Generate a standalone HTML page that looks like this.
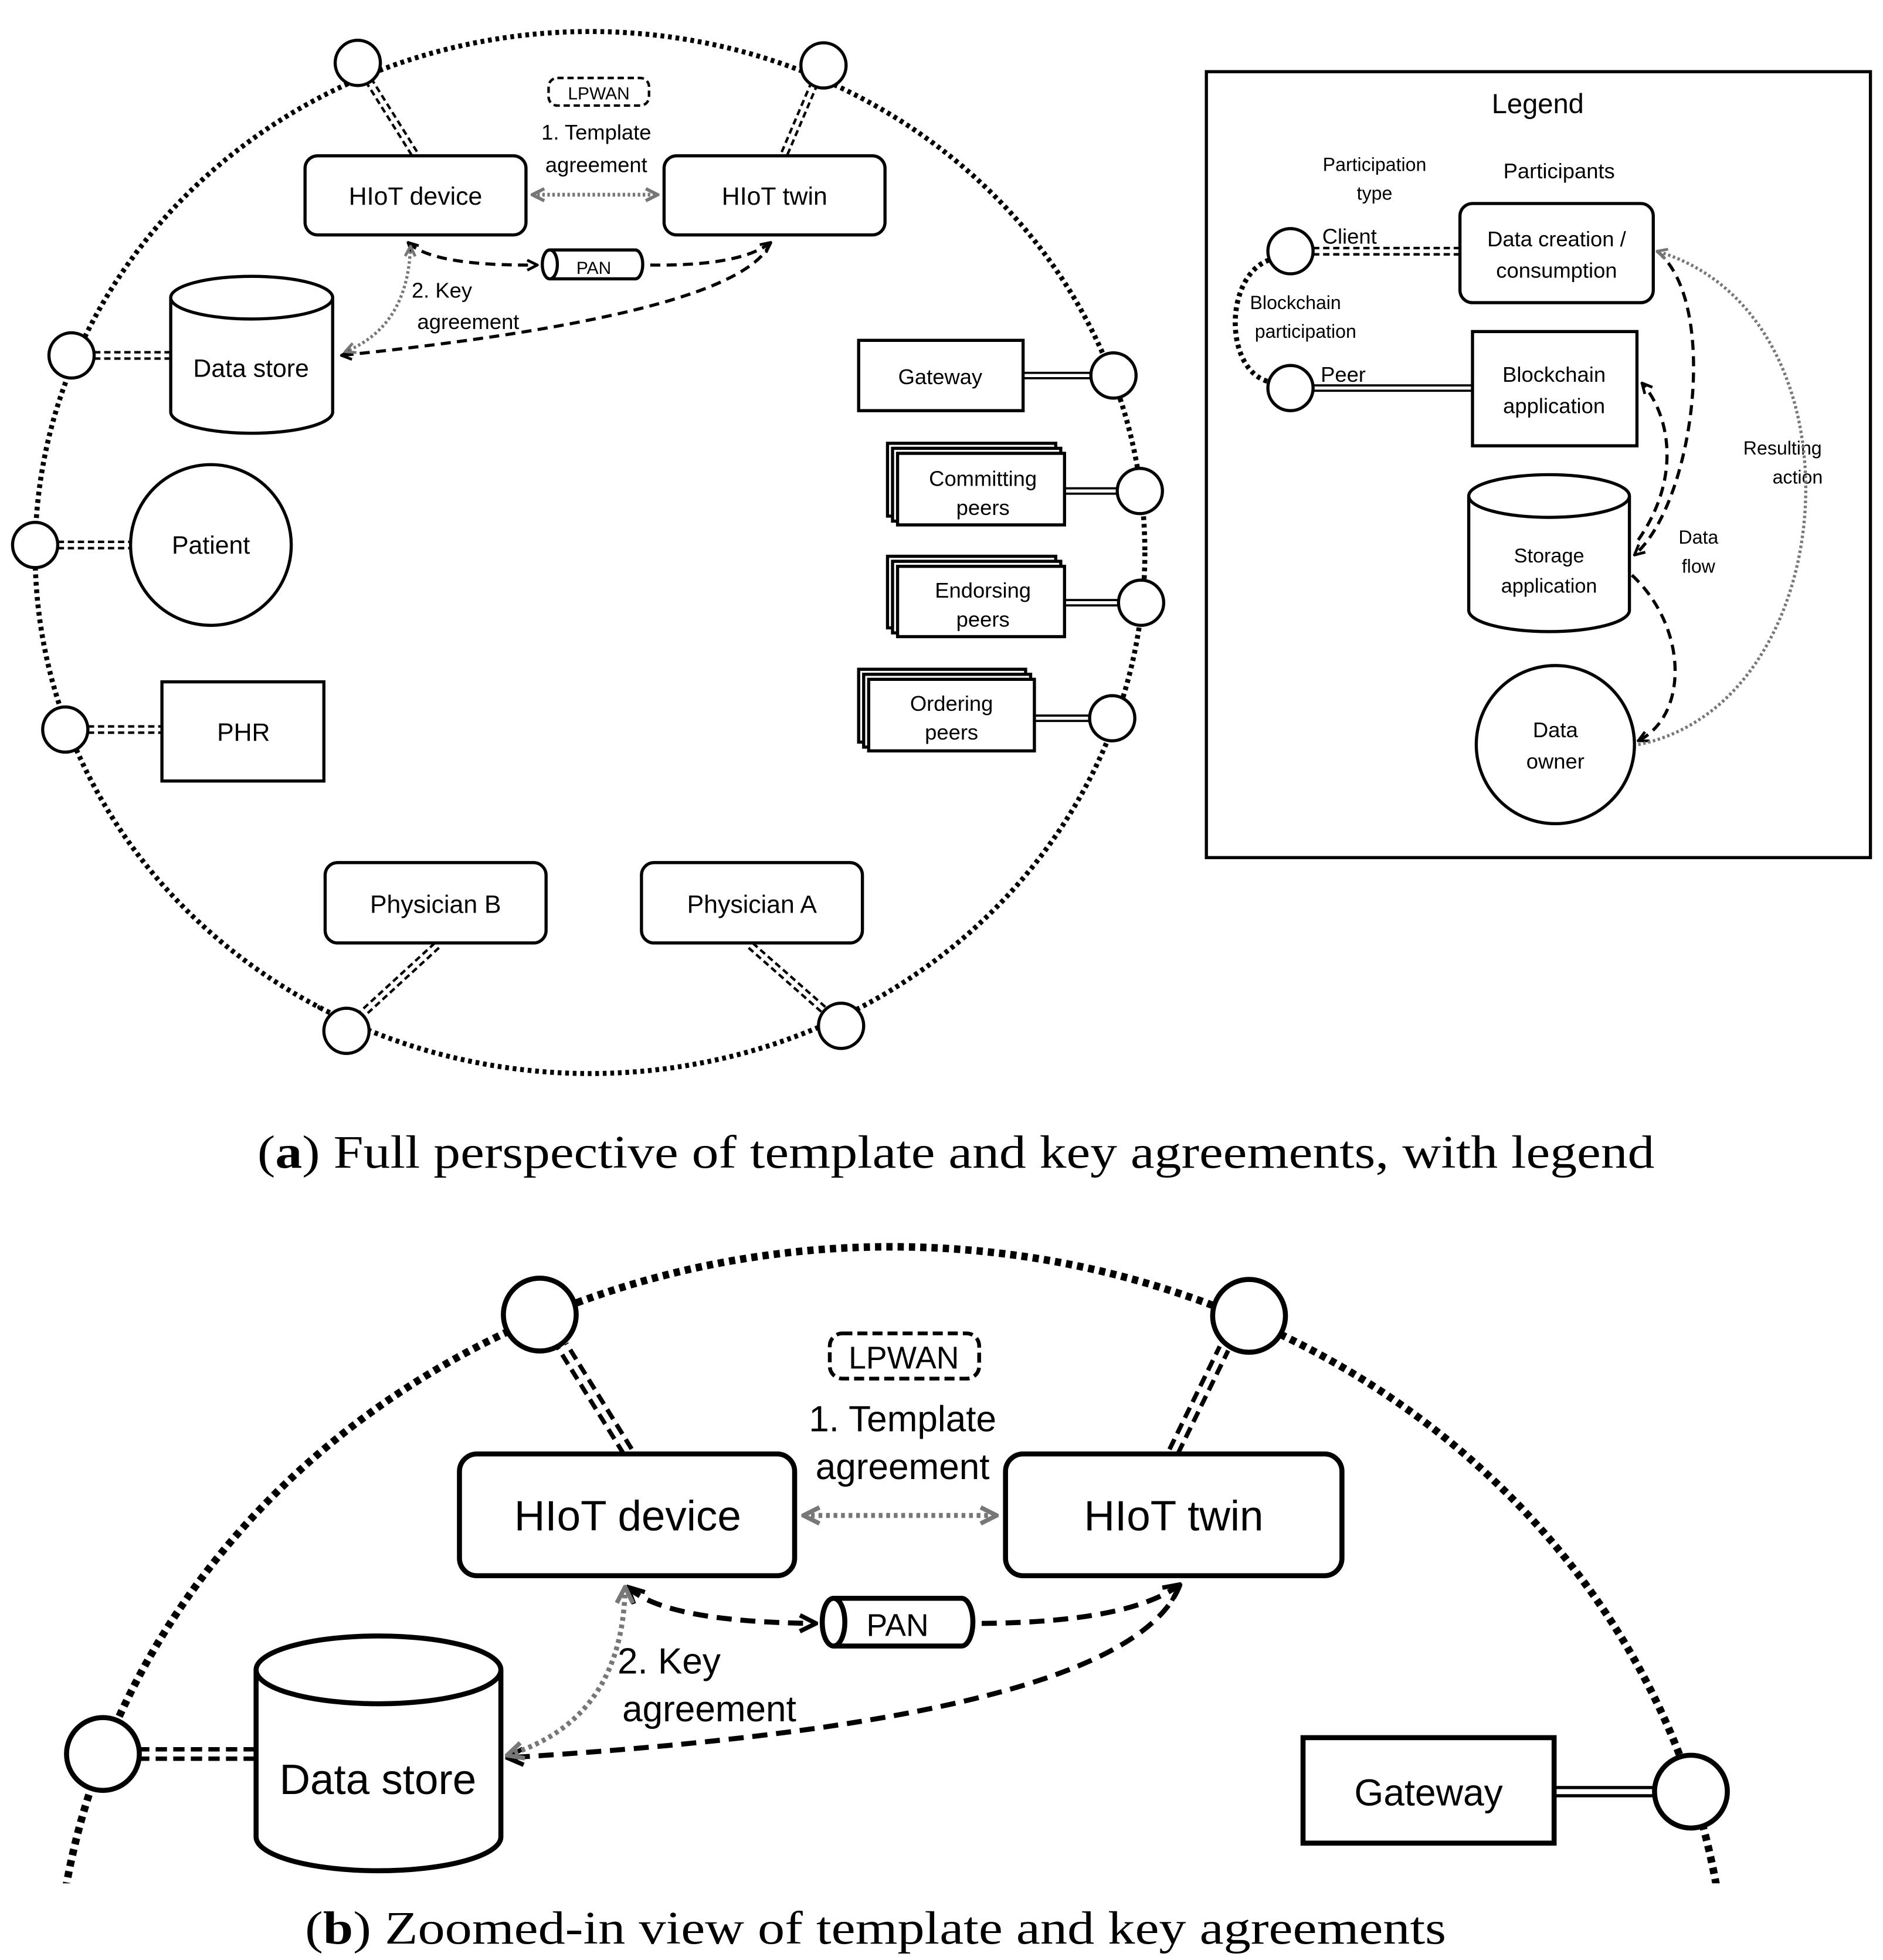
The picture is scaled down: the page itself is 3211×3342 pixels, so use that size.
<!DOCTYPE html>
<html><head><meta charset="utf-8"><style>html,body{margin:0;padding:0;background:#fff;overflow:hidden}svg{display:block}</style></head>
<body>
<svg width="3211" height="3342" viewBox="0 0 1500 1561" xmlns="http://www.w3.org/2000/svg" font-family="'Liberation Sans', sans-serif">
<defs>
<marker id="ah" viewBox="0 0 10 10" refX="9" refY="5" markerWidth="4" markerHeight="4" orient="auto-start-reverse" markerUnits="strokeWidth"><path d="M1,1 L9,5 L1,9" fill="none" stroke="#000" stroke-width="2.2"/></marker>
<marker id="ahg" viewBox="0 0 10 10" refX="9" refY="5" markerWidth="4" markerHeight="4" orient="auto-start-reverse" markerUnits="strokeWidth"><path d="M1,1 L9,5 L1,9" fill="none" stroke="#777" stroke-width="2.2"/></marker>
<clipPath id="cb"><rect x="0" y="960" width="1500" height="540"/></clipPath>
</defs>
<rect width="1500" height="1561" fill="#fff"/>

<!-- ===== TOP DIAGRAM ===== -->
<ellipse cx="470" cy="440" rx="442" ry="415" fill="none" stroke="#000" stroke-width="4" stroke-dasharray="3 3"/>

<g fill="none" stroke-linecap="butt">
<g stroke="#000" stroke-width="7" stroke-dasharray="5 3">
<line x1="330" y1="122" x2="295" y2="66"/><line x1="625" y1="122" x2="648" y2="68"/>
<line x1="75" y1="283" x2="136" y2="283"/><line x1="46" y1="434" x2="104" y2="434"/>
<line x1="70" y1="581" x2="129" y2="581"/><line x1="348" y1="753" x2="288" y2="808"/>
<line x1="598" y1="753" x2="656" y2="804"/><line x1="1046" y1="200" x2="1163" y2="200"/>
</g>
<g stroke="#fff" stroke-width="3">
<line x1="330" y1="122" x2="295" y2="66"/><line x1="625" y1="122" x2="648" y2="68"/>
<line x1="75" y1="283" x2="136" y2="283"/><line x1="46" y1="434" x2="104" y2="434"/>
<line x1="70" y1="581" x2="129" y2="581"/><line x1="348" y1="753" x2="288" y2="808"/>
<line x1="598" y1="753" x2="656" y2="804"/><line x1="1046" y1="200" x2="1163" y2="200"/>
</g>
<g stroke="#000" stroke-width="6">
<line x1="815" y1="299" x2="870" y2="299"/><line x1="848" y1="391" x2="890" y2="391"/>
<line x1="848" y1="480" x2="891" y2="480"/><line x1="824" y1="572" x2="868" y2="572"/>
<line x1="1046" y1="309" x2="1173" y2="309"/>
</g>
<g stroke="#fff" stroke-width="2.5">
<line x1="815" y1="299" x2="870" y2="299"/><line x1="848" y1="391" x2="890" y2="391"/>
<line x1="848" y1="480" x2="891" y2="480"/><line x1="824" y1="572" x2="868" y2="572"/>
<line x1="1046" y1="309" x2="1173" y2="309"/>
</g>
</g>

<g fill="#fff" stroke="#000" stroke-width="2.5">
<circle cx="285" cy="50" r="18"/><circle cx="656" cy="52" r="18"/>
<circle cx="57" cy="283" r="18"/><circle cx="28" cy="434" r="18"/><circle cx="52" cy="581" r="18"/>
<circle cx="276" cy="821" r="18"/><circle cx="670" cy="817" r="18"/>
<circle cx="887" cy="299" r="18"/><circle cx="908" cy="391" r="18"/><circle cx="909" cy="480" r="18"/><circle cx="886" cy="572" r="18"/>
</g>

<g fill="#fff" stroke="#000" stroke-width="2.5">
<rect x="243" y="124" width="176" height="63" rx="10"/>
<rect x="529" y="124" width="176" height="63" rx="10"/>
<rect x="259" y="687" width="176" height="64" rx="10"/>
<rect x="511" y="687" width="176" height="64" rx="10"/>
<rect x="129" y="543" width="129" height="79"/>
<rect x="684" y="271" width="131" height="56"/>
<circle cx="168" cy="434" r="64"/>
<rect x="707" y="353" width="134" height="58"/><rect x="711" y="357" width="134" height="58"/><rect x="715" y="361" width="133" height="57"/>
<rect x="707" y="443" width="134" height="57"/><rect x="711" y="447" width="134" height="57"/><rect x="715" y="451" width="133" height="56"/>
<rect x="684" y="533" width="133" height="58"/><rect x="688" y="537" width="133" height="58"/><rect x="692" y="541" width="132" height="57"/>
<path d="M136,237 L136,328 A64.5,17 0 0 0 265,328 L265,237"/>
<ellipse cx="200.5" cy="237" rx="64.5" ry="17"/>
<path d="M438,199 L506,199 A6,11.5 0 0 1 506,222 L438,222"/>
<ellipse cx="438" cy="210.5" rx="6" ry="11.5"/>
</g>
<rect x="437" y="62" width="80" height="22" rx="7" fill="none" stroke="#000" stroke-width="2" stroke-dasharray="5 3"/>

<line x1="424" y1="155" x2="524" y2="155" stroke="#777" stroke-width="3" stroke-dasharray="2 2" marker-start="url(#ahg)" marker-end="url(#ahg)"/>
<path d="M325,193 Q345,212 428,211" fill="none" stroke="#000" stroke-width="2.5" stroke-dasharray="8 5" marker-start="url(#ah)" marker-end="url(#ah)"/>
<path d="M518,211 Q590,212 614,193" fill="none" stroke="#000" stroke-width="2.5" stroke-dasharray="8 5" marker-end="url(#ah)"/>
<path d="M614,193 Q590,250 272,283" fill="none" stroke="#000" stroke-width="2.5" stroke-dasharray="8 5" marker-end="url(#ah)"/>
<path d="M327,196 Q325,260 275,280" fill="none" stroke="#777" stroke-width="2.5" stroke-dasharray="2 2" marker-start="url(#ahg)" marker-end="url(#ahg)"/>

<g font-size="20" text-anchor="middle" fill="#000">
<text x="331" y="163">HIoT device</text><text x="617" y="163">HIoT twin</text>
<text x="200" y="300">Data store</text><text x="168" y="441">Patient</text><text x="194" y="590">PHR</text>
<text x="347" y="727">Physician B</text><text x="599" y="727">Physician A</text>
</g>
<g font-size="17" text-anchor="middle">
<text x="475" y="111">1. Template</text><text x="475" y="137">agreement</text>
<text x="352" y="237">2. Key</text><text x="373" y="262">agreement</text>
<text x="749" y="306">Gateway</text>
<text x="783" y="387">Committing</text><text x="783" y="410">peers</text>
<text x="783" y="476">Endorsing</text><text x="783" y="499">peers</text>
<text x="758" y="566">Ordering</text><text x="758" y="589">peers</text>
</g>
<text x="477" y="79" font-size="14" text-anchor="middle">LPWAN</text>
<text x="473" y="218" font-size="14" text-anchor="middle">PAN</text>

<!-- ===== LEGEND ===== -->
<rect x="961" y="57" width="529" height="626" fill="none" stroke="#000" stroke-width="2.5"/>
<path d="M1011,207 C975,220 975,295 1011,304" fill="none" stroke="#000" stroke-width="4" stroke-dasharray="3 3"/>
<g fill="#fff" stroke="#000" stroke-width="2.5">
<circle cx="1028" cy="200" r="18"/><circle cx="1028" cy="309" r="18"/>
<rect x="1163" y="162" width="154" height="79" rx="10"/>
<rect x="1173" y="264" width="131" height="91"/>
<path d="M1170,395 L1170,486 A64,17 0 0 0 1298,486 L1298,395"/>
<ellipse cx="1234" cy="395" rx="64" ry="17"/>
<circle cx="1239" cy="593" r="63"/>
</g>
<text x="1225" y="90" font-size="22" text-anchor="middle">Legend</text>
<g font-size="15" text-anchor="middle">
<text x="1095" y="136">Participation</text><text x="1095" y="159">type</text>
<text x="1242" y="142" font-size="17">Participants</text>
<text x="1075" y="194" font-size="17">Client</text><text x="1070" y="304" font-size="17">Peer</text>
<text x="1032" y="246">Blockchain</text><text x="1040" y="269">participation</text>
<text x="1234" y="448" font-size="16">Storage</text><text x="1234" y="472" font-size="16">application</text>
<text x="1353" y="433">Data</text><text x="1353" y="456">flow</text>
<text x="1420" y="362">Resulting</text><text x="1432" y="385">action</text>
</g>
<g font-size="17" text-anchor="middle">
<text x="1240" y="196">Data creation /</text><text x="1240" y="221">consumption</text>
<text x="1238" y="304">Blockchain</text><text x="1238" y="329">application</text>
<text x="1239" y="587">Data</text><text x="1239" y="612">owner</text>
</g>
<path d="M1320,200 C1370,240 1350,400 1302,442" fill="none" stroke="#000" stroke-width="2.5" stroke-dasharray="8 5" marker-end="url(#ah)"/>
<path d="M1305,430 C1340,380 1330,330 1308,305" fill="none" stroke="#000" stroke-width="2.5" stroke-dasharray="8 5" marker-end="url(#ah)"/>
<path d="M1300,458 C1345,500 1345,570 1305,590" fill="none" stroke="#000" stroke-width="2.5" stroke-dasharray="8 5" marker-end="url(#ah)"/>
<path d="M1305,593 C1470,560 1490,250 1320,200" fill="none" stroke="#777" stroke-width="2.5" stroke-dasharray="2 2" marker-end="url(#ahg)"/>

<!-- captions -->
<g font-family="'Liberation Serif', serif" font-size="37">
<text x="205" y="930" textLength="1113" lengthAdjust="spacingAndGlyphs">(<tspan font-weight="bold">a</tspan>) Full perspective of template and key agreements, with legend</text>
<text x="243" y="1548" textLength="909" lengthAdjust="spacingAndGlyphs">(<tspan font-weight="bold">b</tspan>) Zoomed-in view of template and key agreements</text>
</g>

<!-- ===== BOTTOM DIAGRAM ===== -->
<ellipse cx="710" cy="1600" rx="666" ry="607" fill="none" stroke="#000" stroke-width="6" stroke-dasharray="5 4" clip-path="url(#cb)"/>
<g fill="none">
<g stroke="#000" stroke-width="11" stroke-dasharray="9 5">
<line x1="110" y1="1397" x2="204" y2="1397"/><line x1="500" y1="1156" x2="448" y2="1072"/><line x1="935" y1="1156" x2="975" y2="1074"/>
</g>
<g stroke="#fff" stroke-width="4">
<line x1="110" y1="1397" x2="204" y2="1397"/><line x1="500" y1="1156" x2="448" y2="1072"/><line x1="935" y1="1156" x2="975" y2="1074"/>
</g>
<line x1="1238" y1="1427" x2="1318" y2="1427" stroke="#000" stroke-width="9"/>
<line x1="1238" y1="1427" x2="1318" y2="1427" stroke="#fff" stroke-width="4"/>
</g>
<g fill="#fff" stroke="#000" stroke-width="4">
<circle cx="430" cy="1047" r="29"/><circle cx="995" cy="1048" r="29"/>
<circle cx="82" cy="1397" r="29"/><circle cx="1347" cy="1427" r="29"/>
<rect x="366" y="1158" width="267" height="97" rx="14"/>
<rect x="801" y="1158" width="268" height="97" rx="14"/>
<rect x="1038" y="1384" width="200" height="84"/>
<path d="M204,1330 L204,1463 A97.5,27 0 0 0 399,1463 L399,1330"/>
<ellipse cx="301.5" cy="1330" rx="97.5" ry="27"/>
<path d="M664,1273 L766,1273 A9,19 0 0 1 766,1311 L664,1311"/>
<ellipse cx="664" cy="1292" rx="9" ry="19"/>
</g>
<rect x="661" y="1062" width="119" height="36" rx="10" fill="none" stroke="#000" stroke-width="3" stroke-dasharray="8 4"/>
<line x1="640" y1="1207" x2="794" y2="1207" stroke="#777" stroke-width="4" stroke-dasharray="3 3" marker-start="url(#ahg)" marker-end="url(#ahg)"/>
<path d="M500,1264 Q530,1292 650,1293" fill="none" stroke="#000" stroke-width="4" stroke-dasharray="12 7" marker-start="url(#ah)" marker-end="url(#ah)"/>
<path d="M782,1293 Q900,1292 940,1262" fill="none" stroke="#000" stroke-width="4" stroke-dasharray="12 7" marker-end="url(#ah)"/>
<path d="M940,1262 Q900,1370 404,1400" fill="none" stroke="#000" stroke-width="4" stroke-dasharray="12 7" marker-end="url(#ah)"/>
<path d="M498,1264 Q496,1370 404,1398" fill="none" stroke="#777" stroke-width="4" stroke-dasharray="3 3" marker-start="url(#ahg)" marker-end="url(#ahg)"/>
<g text-anchor="middle" fill="#000">
<text x="720" y="1090" font-size="25">LPWAN</text>
<text x="719" y="1140" font-size="29">1. Template</text><text x="719" y="1178" font-size="29">agreement</text>
<text x="500" y="1219" font-size="34">HIoT device</text><text x="935" y="1219" font-size="34">HIoT twin</text>
<text x="715" y="1303" font-size="25">PAN</text>
<text x="533" y="1333" font-size="29">2. Key</text><text x="565" y="1371" font-size="29">agreement</text>
<text x="301" y="1429" font-size="34">Data store</text>
<text x="1138" y="1438" font-size="30">Gateway</text>
</g>
</svg>
</body></html>
